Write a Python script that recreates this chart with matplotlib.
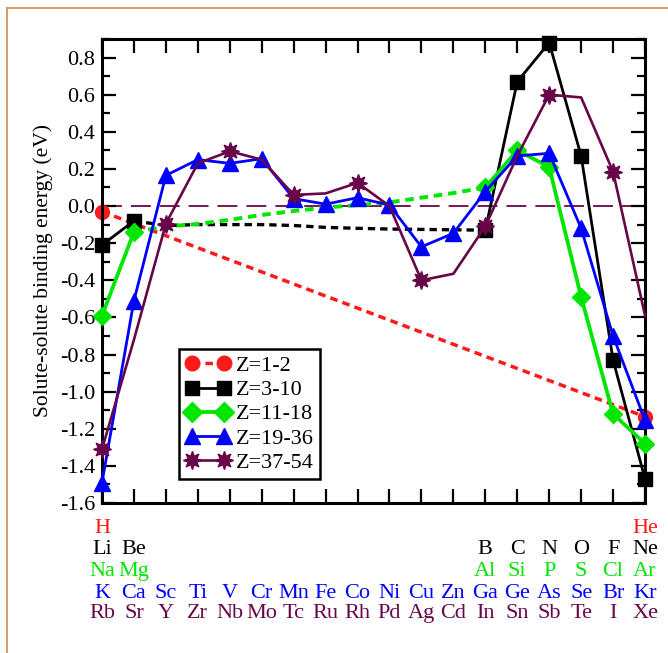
#!/usr/bin/env python3
"""
Solute-solute binding energy across the periodic table rows (Z=1-54).
"""

import matplotlib
matplotlib.use("Agg")
import matplotlib.pyplot as plt
from matplotlib.lines import Line2D
from matplotlib.ticker import MultipleLocator, FormatStrFormatter

# ---- data -------------------------------------------------------------
cols = list(range(1, 19))

z1_cols = [1, 18]
z1_vals = [-0.03, -1.135]

# Z=3-10: solid Li-Be, dashed guide Be..B, solid B..Ne
z2_left_cols = [1, 2]
z2_left_vals = [-0.21, -0.08]
z2_right_cols = [13, 14, 15, 16, 17, 18]
z2_right_vals = [-0.13, 0.67, 0.88, 0.27, -0.83, -1.47]
z2_guide_cols = list(range(2, 14))
z2_guide_vals = [-0.08, -0.105, -0.10, -0.10, -0.10, -0.105, -0.115,
                 -0.12, -0.124, -0.126, -0.128, -0.13]

# Z=11-18
z3_left_cols = [1, 2]
z3_left_vals = [-0.59, -0.14]
z3_right_cols = [13, 14, 15, 16, 17, 18]
z3_right_vals = [0.10, 0.30, 0.21, -0.49, -1.12, -1.28]
z3_guide_cols = list(range(2, 14))
z3_guide_vals = [-0.14, -0.11, -0.097, -0.074, -0.048, -0.027, -0.008,
                 0.005, 0.02, 0.045, 0.07, 0.10]

# Z=19-36
z4_vals = [-1.49, -0.51, 0.165, 0.25, 0.23, 0.255, 0.04, 0.01, 0.045,
           0.005, -0.22, -0.147, 0.078, 0.27, 0.284, -0.12, -0.70, -1.155]

# Z=37-54 (symbol drawn on every second point)
z5_vals = [-1.31, -0.72, -0.095, 0.23, 0.295, 0.25, 0.06, 0.068, 0.125,
           0.0, -0.40, -0.365, -0.11, 0.27, 0.60, 0.585, 0.185, -0.59]

legend_labels = ["Z=1-2", "Z=3-10", "Z=11-18", "Z=19-36", "Z=37-54"]

# element symbols under the axis, one row per period
row_h = {1: "H", 18: "He"}
row_li = {1: "Li", 2: "Be", 13: "B", 14: "C", 15: "N", 16: "O", 17: "F", 18: "Ne"}
row_na = {1: "Na", 2: "Mg", 13: "Al", 14: "Si", 15: "P", 16: "S", 17: "Cl", 18: "Ar"}
row_k = ["K", "Ca", "Sc", "Ti", "V", "Cr", "Mn", "Fe", "Co", "Ni", "Cu", "Zn",
         "Ga", "Ge", "As", "Se", "Br", "Kr"]
row_rb = ["Rb", "Sr", "Y", "Zr", "Nb", "Mo", "Tc", "Ru", "Rh", "Pd", "Ag", "Cd",
          "In", "Sn", "Sb", "Te", "I", "Xe"]

RED = "#ff1a1a"
BLACK = "#000000"
GREEN = "#00e600"
BLUE = "#0000ff"
MAROON = "#670748"

plt.rcParams['font.family'] = 'Liberation Serif'
plt.rcParams['axes.unicode_minus'] = False


def main():
    fig = plt.figure(figsize=(6.68, 6.53), dpi=100, facecolor='white')
    ax = fig.add_axes([0.1527, 0.2297, 0.8129, 0.7106])

    # zero reference line
    ax.axhline(0.0, color=MAROON, lw=1.3, dashes=(11, 5), zorder=1)

    # Z=1-2
    ax.plot(z1_cols, z1_vals, color=RED, lw=2.5, dashes=(2.2, 1.5),
            marker='o', ms=10, mec=RED, zorder=2, clip_on=False)

    # Z=3-10
    ax.plot(z2_guide_cols, z2_guide_vals, color=BLACK, lw=2.4, dashes=(2.2, 1.5), zorder=3)
    for xs, ys in ((z2_left_cols, z2_left_vals), (z2_right_cols, z2_right_vals)):
        ax.plot(xs, ys, color=BLACK, lw=2.0, marker='s', ms=10, zorder=3, clip_on=False)

    # Z=11-18
    ax.plot(z3_guide_cols, z3_guide_vals, color=GREEN, lw=2.8, dashes=(2.2, 1.5), zorder=4)
    for xs, ys in ((z3_left_cols, z3_left_vals), (z3_right_cols, z3_right_vals)):
        ax.plot(xs, ys, color=GREEN, lw=2.7, marker='D', ms=9.5, zorder=4, clip_on=False)

    # Z=19-36
    ax.plot(cols, z4_vals, color=BLUE, lw=2.0, marker='^', ms=11.5, zorder=5, clip_on=False)

    # Z=37-54
    ax.plot(cols, z5_vals, color=MAROON, lw=1.9, marker=(8, 1, 0), ms=13,
            markevery=2, zorder=6, clip_on=False)

    # axes, ticks
    ax.set_xlim(1, 18)
    ax.set_ylim(-1.6, 0.9)
    ax.set_xticks(cols)
    ax.set_xticklabels([])
    ax.yaxis.set_major_locator(MultipleLocator(0.2))
    ax.yaxis.set_minor_locator(MultipleLocator(0.1))
    ax.yaxis.set_major_formatter(FormatStrFormatter('%.1f'))
    ax.tick_params(axis='both', which='major', direction='in', length=10, width=1.6,
                   top=True, right=True, labelsize=16, pad=5)
    ax.tick_params(axis='y', which='minor', direction='in', length=5.5, width=1.6,
                   left=True, right=True)
    for sp in ax.spines.values():
        sp.set_linewidth(2.2)
    ax.set_ylabel("Solute-solute binding energy (eV)", fontsize=15.5, labelpad=5)

    # legend
    handles = [
        Line2D([], [], color=RED, lw=2.5, dashes=(2.2, 1.5), marker='o', ms=10.5),
        Line2D([], [], color=BLACK, lw=2.0, marker='s', ms=10.5),
        Line2D([], [], color=GREEN, lw=2.7, marker='D', ms=10),
        Line2D([], [], color=BLUE, lw=2.0, marker='^', ms=12),
        Line2D([], [], color=MAROON, lw=1.9, marker=(8, 1, 0), ms=13),
    ]
    leg = ax.legend(handles, legend_labels, loc='upper left', bbox_to_anchor=(0.142, 0.332),
                    borderaxespad=0, numpoints=2, fontsize=16, handlelength=2.0,
                    handletextpad=0.25, labelspacing=0.16, borderpad=0.3,
                    fancybox=False, framealpha=1, edgecolor='black')
    leg.get_frame().set_linewidth(1.8)

    # element symbols under the axis
    trans = ax.get_xaxis_transform()
    rows = [
        (-0.054, row_h, RED),
        (-0.101, row_li, BLACK),
        (-0.147, row_na, GREEN),
        (-0.194, dict(zip(cols, row_k)), BLUE),
        (-0.239, dict(zip(cols, row_rb)), MAROON),
    ]
    for ypos, row, color in rows:
        for c, sym in row.items():
            ax.text(c, ypos, sym, transform=trans, ha='center', va='center',
                    fontsize=16, color=color, clip_on=False)

    # thin orange frame along top and left edge
    fig.add_artist(Line2D([7 / 668, 1], [1 - 8 / 653, 1 - 8 / 653],
                          transform=fig.transFigure, color='#d9925c', lw=1.3))
    fig.add_artist(Line2D([7 / 668, 7 / 668], [0, 1 - 8 / 653],
                          transform=fig.transFigure, color='#d9925c', lw=1.3))

    fig.savefig("out.png", dpi=100, facecolor='white')
    plt.close(fig)


if __name__ == "__main__":
    main()
